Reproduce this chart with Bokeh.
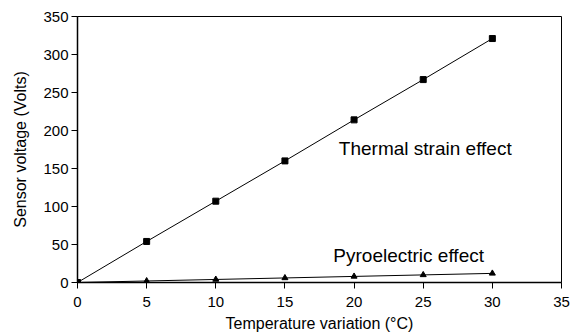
from bokeh.plotting import figure
from bokeh.models import Range1d, FixedTicker, Label
from bokeh.embed import file_html
from bokeh.resources import INLINE

temp = [0, 5, 10, 15, 20, 25, 30]
thermal = [0, 54, 107, 160, 214, 267, 321]
pyro = [0, 2, 4, 6, 8, 10, 12]
x_ticks = [0, 5, 10, 15, 20, 25, 30, 35]
y_ticks = [0, 50, 100, 150, 200, 250, 300, 350]

FONT = "Liberation Sans"

p = figure(width=570, height=334, output_backend="svg", toolbar_location=None,
           x_range=Range1d(0, 35), y_range=Range1d(0, 350),
           min_border_left=77, min_border_right=9, min_border_top=16, min_border_bottom=52)
p.grid.visible = False
p.outline_line_color = "black"
p.outline_line_width = 1
p.background_fill_color = "white"
p.border_fill_color = "white"

p.line(temp, thermal, line_color="black", line_width=1)
p.scatter(temp, thermal, marker="square", size=6, color="black")
p.line(temp, pyro, line_color="black", line_width=1)
p.scatter(temp, pyro, marker="triangle", size=6, color="black")

for ax in (p.xaxis[0], p.yaxis[0]):
    ax.axis_line_color = "black"
    ax.axis_line_width = 1.5
    ax.major_tick_line_color = "black"
    ax.major_tick_out = 6
    ax.major_tick_in = 0
    ax.minor_tick_line_color = None
    ax.major_label_text_font = FONT
    ax.major_label_text_font_size = "15px"
    ax.major_label_text_color = "black"
    ax.axis_label_text_font = FONT
    ax.axis_label_text_font_style = "normal"
    ax.axis_label_text_color = "black"
    ax.axis_label_text_font_size = "16px"

p.xaxis.ticker = FixedTicker(ticks=x_ticks)
p.yaxis.ticker = FixedTicker(ticks=y_ticks)
p.xaxis.axis_label = "Temperature variation (°C)"
p.yaxis.axis_label = "Sensor voltage (Volts)"
p.xaxis.major_label_standoff = 8
p.yaxis.major_label_standoff = 3
p.xaxis.axis_label_standoff = 5
p.yaxis.axis_label_standoff = 11

p.add_layout(Label(x=18.9, y=176, text="Thermal strain effect", text_font=FONT,
                   text_font_size="19px", text_baseline="middle", text_color="black"))
p.add_layout(Label(x=18.5, y=35.5, text="Pyroelectric effect", text_font=FONT,
                   text_font_size="19px", text_baseline="middle", text_color="black"))

open("out.html", "w").write(file_html(p, INLINE))
